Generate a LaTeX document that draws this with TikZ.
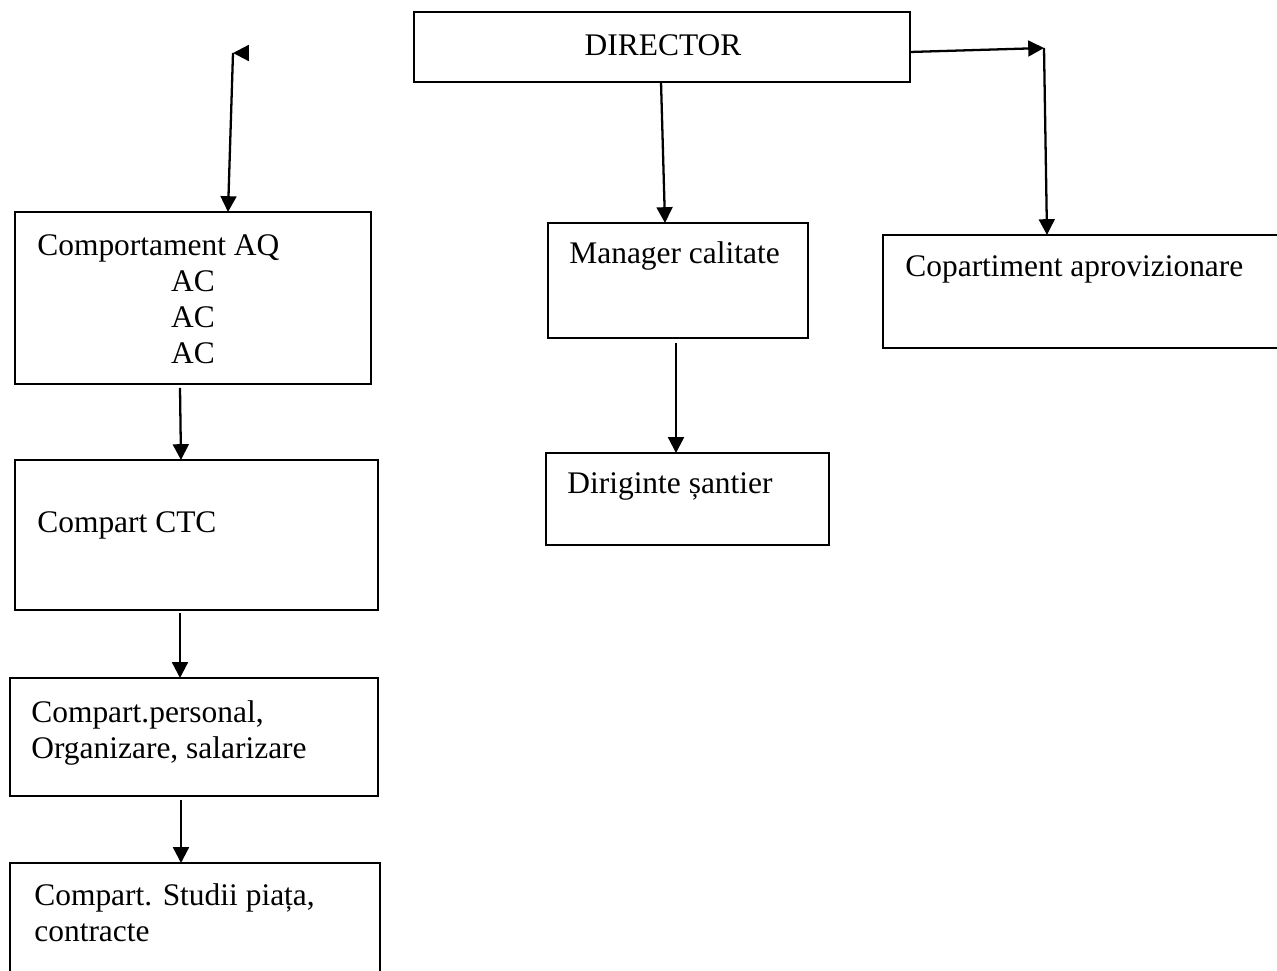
\documentclass[tikz,border=0pt]{standalone}
\usepackage{fontspec}
\setmainfont{Liberation Serif}
\usetikzlibrary{arrows.meta,calc}

\begin{document}
\begin{tikzpicture}[
  x=0.02cm, y=-0.02cm,
  font=\fontsize{17.9}{20.4}\selectfont,
  box/.style={draw=black, line width=1.2pt, inner sep=0pt, outer sep=0pt, anchor=north west},
  txt/.style={anchor=base west, inner sep=0pt, align=left},
  ctr/.style={anchor=base, inner sep=0pt},
  ar/.style={-{Triangle[length=9pt, width=9pt]}, line width=1.3pt}]

\path[use as bounding box, fill=white] (0,0) rectangle (1277,970);

% --- top: director
\node[box, minimum width=9.92cm, minimum height=1.4cm] (dir) at (414,12) {};
\node[ctr] (dirt) at ($(dir.north west)+(249,43)$) {DIRECTOR};

% --- left column
\node[box, minimum width=7.12cm, minimum height=3.44cm] (aq) at (15,212) {};
\node[txt] (aqt) at ($(aq.north west)+(22,43)$) {Comportament AQ};
\foreach \i/\yy in {1/291,2/327,3/363}
  \node[ctr] (ac\i) at (193,\yy) {AC};
\node[box, minimum width=7.26cm, minimum height=3cm] (ctc) at (15,460) {};
\node[txt] (ctct) at ($(ctc.north west)+(22,72)$) {Compart CTC};
\node[box, minimum width=7.36cm, minimum height=2.36cm] (pers) at (10,678) {};
\node[txt] (perst) at ($(pers.north west)+(21,80)$) {Compart.personal,\\Organizare, salarizare};
\node[box, minimum width=7.4cm, minimum height=2.3cm] (stud) at (10,863) {};
\node[txt] (studt) at ($(stud.north west)+(24,78)$) {Compart. Studii piața,\\contracte};

% --- middle and right
\node[box, minimum width=5.2cm, minimum height=2.3cm] (mgr) at (548,223) {};
\node[txt] (mgrt) at ($(mgr.north west)+(21,40)$) {Manager calitate};
\node[box, minimum width=5.66cm, minimum height=1.84cm] (dirig) at (546,453) {};
\node[txt] (dirigt) at ($(dirig.north west)+(21,40)$) {Diriginte șantier};
\node[box, minimum width=8.1cm, minimum height=2.26cm] (apr) at (883,235) {};
\node[txt] (aprt) at ($(apr.north west)+(22,41)$) {Copartiment aprovizionare};

\coordinate (lc) at (233,53);
\coordinate (rc) at (1044,48);

\draw[ar] ($(lc)+(16,0)$) -- (lc);
\draw[ar] (lc) -- ($(aq.north west)+(213,0)$);
\draw[ar] ($(dir.east)+(0,5)$) -- (rc);
\draw[ar] (rc) -- ($(apr.north west)+(164,0)$);
\draw[ar] ($(dir.south west)+(247,0)$) -- ($(mgr.north west)+(117,0)$);
\draw[ar] ($(mgr.south west)+(128,5)$) -- ($(dirig.north west)+(130,0)$);
\draw[ar] ($(aq.south west)+(165,4)$) -- ($(ctc.north west)+(166,0)$);
\draw[ar] ($(ctc.south west)+(165,3)$) -- ($(pers.north west)+(170,0)$);
\draw[ar] ($(pers.south west)+(171,4)$) -- ($(stud.north west)+(171,0)$);
\end{tikzpicture}
\end{document}
